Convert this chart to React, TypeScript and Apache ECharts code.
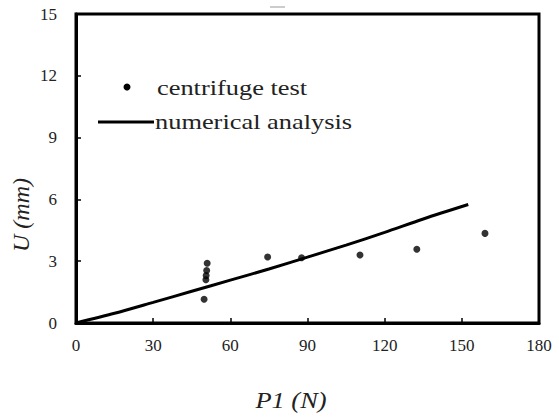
import React, { useEffect, useRef } from "react";
import * as echarts from "echarts";

const xTicks = [0, 30, 60, 90, 120, 150, 180];
const yTicks = [0, 3, 6, 9, 12, 15];

const testP = [49.8, 50.5, 50.6, 50.8, 51.0, 74.5, 87.7, 110.4, 132.5, 159.0];
const testU = [1.15, 2.1, 2.3, 2.55, 2.9, 3.2, 3.17, 3.3, 3.58, 4.35];

const numP = [0, 15, 30, 45, 60, 75, 90, 105, 120, 135, 152.5];
const numU = [0, 0.47, 1.0, 1.54, 2.08, 2.62, 3.2, 3.78, 4.4, 5.05, 5.75];

const legendNames = ["centrifuge test", "numerical analysis"];
const xTitle = "P1 (N)";
const yTitle = "U (mm)";

const FONT = "Liberation Serif";

export default function App() {
  const ref = useRef<HTMLDivElement>(null);
  useEffect(() => {
    if (!ref.current) return;
    const chart = echarts.init(ref.current, undefined, { renderer: "svg" });
    const axisCommon = {
      axisLine: { show: true, lineStyle: { color: "#000", width: 3 } },
      axisTick: { show: true, inside: true, length: 5, lineStyle: { color: "#000", width: 1.5 } },
      splitLine: { show: false },
    };
    chart.setOption({
      animation: false,
      backgroundColor: "#fff",
      textStyle: { fontFamily: FONT },
      grid: {
        left: 76,
        right: 20,
        top: 14,
        bottom: 96,
        show: true,
        borderColor: "#000",
        borderWidth: 3,
        backgroundColor: "transparent",
      },
      xAxis: {
        type: "value",
        min: xTicks[0],
        max: xTicks[xTicks.length - 1],
        interval: 30,
        ...axisCommon,
        axisLabel: { color: "#222", fontFamily: FONT, fontSize: 17, margin: 14 },
      },
      yAxis: {
        type: "value",
        min: yTicks[0],
        max: yTicks[yTicks.length - 1],
        interval: 3,
        ...axisCommon,
        axisLabel: { color: "#222", fontFamily: FONT, fontSize: 17, margin: 19 },
      },
      series: [
        {
          name: legendNames[0],
          type: "scatter",
          data: testP.map((p, i) => [p, testU[i]]),
          symbol: "circle",
          symbolSize: 7,
          itemStyle: { color: "#000" },
          z: 3,
        },
        {
          name: legendNames[1],
          type: "line",
          data: numP.map((p, i) => [p, numU[i]]),
          smooth: 0.3,
          showSymbol: false,
          lineStyle: { color: "#000", width: 3 },
          z: 2,
        },
      ],
      graphic: [
        { type: "line", shape: { x1: 270, y1: 7, x2: 285, y2: 7 }, style: { stroke: "#ccc", lineWidth: 2 } },
        { type: "circle", shape: { cx: 127, cy: 87, r: 3.5 }, style: { fill: "#000" } },
        {
          type: "text",
          x: 157,
          y: 87,
          scaleX: 1.2,
          style: { text: legendNames[0], fontFamily: FONT, fontSize: 22, fill: "#222", verticalAlign: "middle" },
        },
        { type: "line", shape: { x1: 98, y1: 122, x2: 154, y2: 122 }, style: { stroke: "#000", lineWidth: 3 } },
        {
          type: "text",
          x: 155,
          y: 121,
          scaleX: 1.2,
          style: { text: legendNames[1], fontFamily: FONT, fontSize: 22, fill: "#222", verticalAlign: "middle" },
        },
        {
          type: "text",
          x: 291,
          y: 400,
          scaleX: 1.15,
          style: { text: xTitle, fontFamily: FONT, fontStyle: "italic", fontSize: 23, fill: "#222", align: "center", verticalAlign: "middle" },
        },
        {
          type: "text",
          x: 21,
          y: 215,
          rotation: Math.PI / 2,
          style: { text: yTitle, fontFamily: FONT, fontStyle: "italic", fontSize: 24, fill: "#222", align: "center", verticalAlign: "middle" },
        },
      ],
    });
    return () => chart.dispose();
  }, []);
  return <div ref={ref} style={{ width: 559, height: 419, position: "absolute", left: 0, top: 0 }} />;
}
